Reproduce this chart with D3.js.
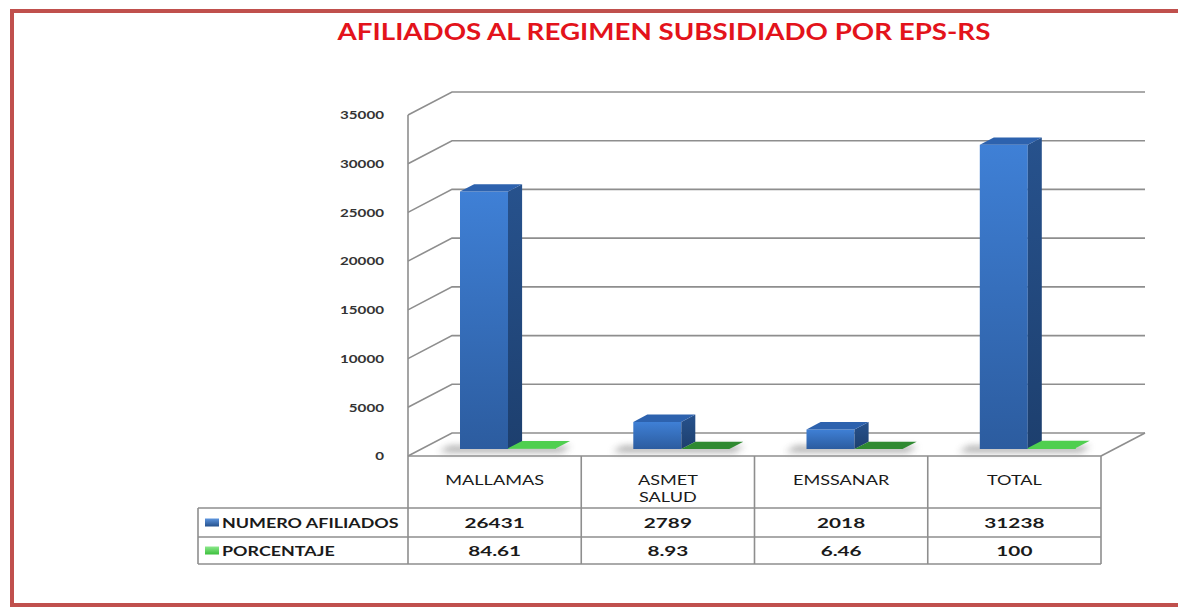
<!DOCTYPE html>
<html>
<head>
<meta charset="utf-8">
<script src="https://cdn.jsdelivr.net/npm/d3@7"></script>
<style>
  body { margin: 0; background: #fff; }
  svg { display: block; }
</style>
</head>
<body>
<script>
// data
var categories = ["MALLAMAS", "ASMET SALUD", "EMSSANAR", "TOTAL"];
var afiliados = [26431, 2789, 2018, 31238];
var porcentaje = [84.61, 8.93, 6.46, 100];
var seriesNames = ["NUMERO AFILIADOS", "PORCENTAJE"];
var yMax = 35000;

// colours
var greenTops = ["#4fcf4f", "#2f8a31", "#2f8a31", "#4fcf4f"];
var gridColor = "#8e8e8e";
var fontFam = "Lato, 'DejaVu Sans', sans-serif";

var width = 1178;
var height = 607;

var svg = d3.select("body").append("svg")
    .attr("width", width)
    .attr("height", height);

var defs = svg.append("defs");

var gFront = defs.append("linearGradient").attr("id", "blue-front")
    .attr("x1", 0).attr("y1", 0).attr("x2", 0).attr("y2", 1);
gFront.append("stop").attr("offset", "0%").attr("stop-color", "#3f80d6");
gFront.append("stop").attr("offset", "100%").attr("stop-color", "#2c5c9f");

var gSide = defs.append("linearGradient").attr("id", "blue-side")
    .attr("x1", 0).attr("y1", 0).attr("x2", 0).attr("y2", 1);
gSide.append("stop").attr("offset", "0%").attr("stop-color", "#27528d");
gSide.append("stop").attr("offset", "100%").attr("stop-color", "#1d3f6e");

var gKeyB = defs.append("linearGradient").attr("id", "key-blue")
    .attr("x1", 0).attr("y1", 0).attr("x2", 0).attr("y2", 1);
gKeyB.append("stop").attr("offset", "0%").attr("stop-color", "#5d95de");
gKeyB.append("stop").attr("offset", "100%").attr("stop-color", "#24508c");

var gKeyG = defs.append("linearGradient").attr("id", "key-green")
    .attr("x1", 0).attr("y1", 0).attr("x2", 0).attr("y2", 1);
gKeyG.append("stop").attr("offset", "0%").attr("stop-color", "#8be88b");
gKeyG.append("stop").attr("offset", "100%").attr("stop-color", "#3cbf3c");

defs.append("filter").attr("id", "soft")
    .attr("x", "-50%").attr("y", "-200%").attr("width", "200%").attr("height", "500%")
  .append("feGaussianBlur").attr("stdDeviation", 3.5);

// scales
var x = d3.scaleBand().domain(categories).range([408, 1101]);
var y = d3.scaleLinear().domain([0, yMax]).range([456, 115]);

// depth of the 3d box
var DX = 44, DY = -23;
function P(px, d, v) {
  return [px + d * DX, y(v) + d * DY];
}
function pts(arr) {
  return arr.map(function(p) { return p[0].toFixed(1) + "," + p[1].toFixed(1); }).join(" ");
}

// stretched text helper (the original is horizontally widened)
function txt(g, s, tx, ty, opt) {
  return g.append("text")
    .attr("transform", "translate(" + tx + "," + ty + ") scale(" + (opt.sx || 1) + ",1)")
    .attr("text-anchor", opt.anchor || "middle")
    .attr("dominant-baseline", "central")
    .style("font-family", fontFam)
    .style("font-size", opt.size + "px")
    .style("font-weight", opt.weight || "normal")
    .style("fill", opt.fill || "#1a1a1a")
    .text(s);
}

// frame
svg.append("rect")
    .attr("x", 12).attr("y", 11)
    .attr("width", 1200).attr("height", 594)
    .attr("fill", "none")
    .attr("stroke", "#c0504d")
    .attr("stroke-width", 4);

// title
txt(svg, "AFILIADOS AL REGIMEN SUBSIDIADO POR EPS-RS", 664, 31,
    { size: 22, weight: "bold", fill: "#e3131b", sx: 1.26 });

// walls and grid
var grid = svg.append("g")
    .attr("stroke", gridColor)
    .attr("stroke-width", 1.6)
    .attr("fill", "none");

var ticks = y.ticks(7);
ticks.forEach(function(v) {
  grid.append("polyline")
      .attr("points", pts([P(408, 0, v), P(408, 1, v), P(1101, 1, v)]));
});
grid.append("line")
    .attr("x1", 408).attr("y1", y(yMax))
    .attr("x2", 408).attr("y2", 564);
grid.append("line")
    .attr("x1", P(1101, 0, 0)[0]).attr("y1", P(1101, 0, 0)[1])
    .attr("x2", P(1101, 1, 0)[0]).attr("y2", P(1101, 1, 0)[1]);

// y labels
var yAxis = svg.append("g");
ticks.forEach(function(v) {
  txt(yAxis, String(v), 384, y(v), { size: 11.5, weight: "bold", anchor: "end", sx: 1.32, fill: "#333" });
});

// bars
var d0 = 0.3, d1 = 0.62, bw = 48, off = 38.8;
var bars = svg.append("g");

categories.forEach(function(c, i) {
  var bx = x(c) + off;
  // soft shadow on the floor
  bars.append("polygon")
      .attr("points", pts([P(bx - 16, d0 - 0.12, 0), P(bx + 2 * bw + 10, d0 - 0.12, 0),
                           P(bx + 2 * bw + 10, d1 - 0.2, 0), P(bx - 16, d1 - 0.2, 0)]))
      .attr("fill", "#6e6e6e")
      .attr("opacity", 0.65)
      .attr("filter", "url(#soft)");
});

categories.forEach(function(c, i) {
  var bx = x(c) + off;
  var series = [afiliados[i], porcentaje[i]];
  series.forEach(function(v, s) {
    var px = bx + s * bw;
    var g = bars.append("g");
    if (s === 0) {
      g.append("polygon")
          .attr("points", pts([P(px, d0, v), P(px + bw, d0, v), P(px + bw, d0, 0), P(px, d0, 0)]))
          .attr("fill", "url(#blue-front)");
      g.append("polygon")
          .attr("points", pts([P(px + bw, d0, 0), P(px + bw, d0, v), P(px + bw, d1, v), P(px + bw, d1, 0)]))
          .attr("fill", "url(#blue-side)");
      g.append("polygon")
          .attr("points", pts([P(px, d0, v), P(px + bw, d0, v), P(px + bw, d1, v), P(px, d1, v)]))
          .attr("fill", "#2d62ae");
    } else {
      g.append("polygon")
          .attr("points", pts([P(px, d0, v), P(px + bw, d0, v), P(px + bw, d1, v), P(px, d1, v)]))
          .attr("fill", greenTops[i]);
      g.append("polygon")
          .attr("points", pts([P(px, d0, v), P(px + bw, d0, v), P(px + bw, d0, 0), P(px, d0, 0)]))
          .attr("fill", greenTops[i]);
    }
  });
});

// data table
var table = svg.append("g")
    .attr("stroke", gridColor)
    .attr("stroke-width", 1.6)
    .attr("fill", "none");

var rowTop = 456, rowCat = 508, row1 = 537, row2 = 564, legLeft = 198;

table.append("line").attr("x1", 408).attr("y1", rowTop).attr("x2", 1101).attr("y2", rowTop);
table.append("line").attr("x1", legLeft).attr("y1", rowCat).attr("x2", 1101).attr("y2", rowCat);
table.append("line").attr("x1", legLeft).attr("y1", row1).attr("x2", 1101).attr("y2", row1);
table.append("line").attr("x1", legLeft).attr("y1", row2).attr("x2", 1101).attr("y2", row2);
table.append("line").attr("x1", legLeft).attr("y1", rowCat).attr("x2", legLeft).attr("y2", row2);
categories.forEach(function(c) {
  var xr = x(c) + x.bandwidth();
  table.append("line").attr("x1", xr).attr("y1", rowTop).attr("x2", xr).attr("y2", row2);
});

var labels = svg.append("g");
categories.forEach(function(c, i) {
  var cx = x(c) + x.bandwidth() / 2;
  var lines = c.split(" ");
  lines.forEach(function(l, k) {
    txt(labels, l, cx, 480 + k * 17, { size: 13.5, sx: 1.34 });
  });
  txt(labels, String(afiliados[i]), cx, (rowCat + row1) / 2, { size: 14, weight: "bold", sx: 1.48 });
  txt(labels, String(porcentaje[i]), cx, (row1 + row2) / 2, { size: 14, weight: "bold", sx: 1.48 });
});

// legend keys
var keyFills = ["url(#key-blue)", "url(#key-green)"];
[(rowCat + row1) / 2, (row1 + row2) / 2].forEach(function(cy, s) {
  labels.append("rect")
      .attr("x", 205).attr("y", cy - 4)
      .attr("width", 14).attr("height", 8)
      .attr("fill", keyFills[s]);
  txt(labels, seriesNames[s], 222, cy, { size: 14, weight: "bold", anchor: "start", sx: 1.28 });
});
</script>
</body>
</html>
